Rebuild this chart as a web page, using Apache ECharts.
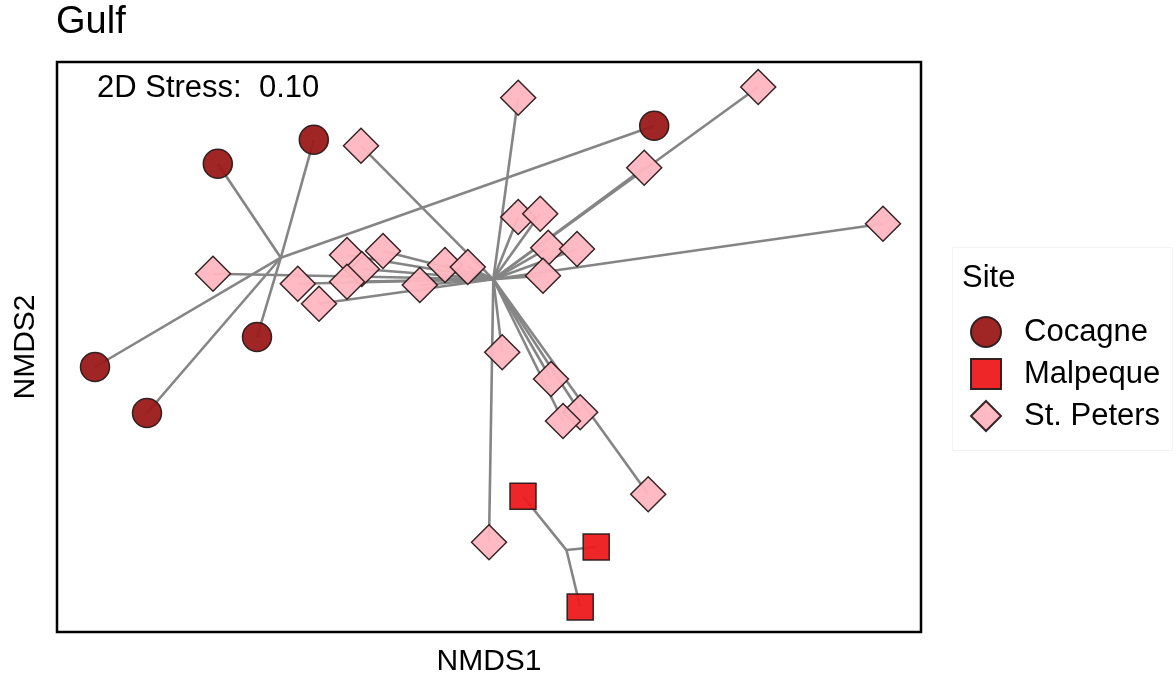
<!DOCTYPE html>
<html>
<head>
<meta charset="utf-8">
<script src="https://cdn.jsdelivr.net/npm/echarts@6/dist/echarts.min.js"></script>
<style>
  html, body { margin: 0; padding: 0; background: #ffffff; }
  #chart { width: 1176px; height: 675px; }
</style>
</head>
<body>
<div id="chart"></div>
<script>
// ---- data (NMDS scores) ----
const sites = ['Cocagne', 'Malpeque', 'St. Peters'];

const cocagneX = [-0.678, -0.438, 0.413, -0.580, -0.985, -0.855];
const cocagneY = [0.458, 0.518, 0.553, 0.025, -0.050, -0.165];

const malpequeX = [0.085, 0.268, 0.228];
const malpequeY = [-0.373, -0.500, -0.650];

const stPetersX = [0.073, 0.673, -0.320, 0.388, 0.073, 0.128, 0.985, 0.148, 0.220, 0.135,
                   -0.690, -0.478, -0.425, -0.355, -0.318, -0.355, -0.265, -0.173, -0.110, -0.053,
                   0.033, 0.155, 0.228, 0.185, 0.398, 0.000];
const stPetersY = [0.623, 0.650, 0.503, 0.448, 0.325, 0.333, 0.308, 0.248, 0.245, 0.178,
                   0.183, 0.158, 0.108, 0.230, 0.195, 0.163, 0.240, 0.155, 0.205, 0.200,
                   -0.013, -0.080, -0.163, -0.185, -0.368, -0.488];

const stressText = '2D Stress:  0.10';
const titleText = 'Gulf';
const legendTitle = 'Site';
const xName = 'NMDS1';
const yName = 'NMDS2';

// ---- helpers ----
const FONT = '"Liberation Sans", Arial, sans-serif';
function pts(xs, ys) { return xs.map((x, i) => [x, ys[i]]); }
function centroid(xs, ys) {
  const n = xs.length;
  return [xs.reduce((a, b) => a + b, 0) / n, ys.reduce((a, b) => a + b, 0) / n];
}
function spider(xs, ys) {
  const c = centroid(xs, ys);
  return xs.map((x, i) => ({ coords: [[x, ys[i]], c] }));
}

const groups = [
  { name: sites[0], xs: cocagneX, ys: cocagneY, symbol: 'circle', size: 29, color: '#9b1a1a' },
  { name: sites[1], xs: malpequeX, ys: malpequeY, symbol: 'rect', size: 26, color: '#ee1a1c' },
  { name: sites[2], xs: stPetersX, ys: stPetersY, symbol: 'diamond', size: 35, color: '#ffb6c1' }
];

const series = [];
groups.forEach(g => {
  series.push({
    type: 'lines',
    coordinateSystem: 'cartesian2d',
    silent: true,
    z: 1,
    lineStyle: { color: '#858585', width: 2.6, opacity: 1 },
    data: spider(g.xs, g.ys)
  });
});
groups.forEach(g => {
  series.push({
    name: g.name,
    type: 'scatter',
    z: 3,
    symbol: g.symbol,
    symbolSize: g.size,
    itemStyle: { color: g.color, borderColor: '#2a1a1a', borderWidth: 1.5, opacity: 0.95 },
    data: pts(g.xs, g.ys)
  });
});

const chart = echarts.init(document.getElementById('chart'), null, { renderer: 'canvas' });
chart.setOption({
  animation: false,
  backgroundColor: '#ffffff',
  title: [
    { text: titleText, left: 56, top: 4, padding: 0,
      textStyle: { fontFamily: FONT, fontSize: 38, fontWeight: 'normal', color: '#000' } },
    { text: stressText, left: 97, top: 73, padding: 0,
      textStyle: { fontFamily: FONT, fontSize: 31, fontWeight: 'normal', color: '#000' } },
    { text: legendTitle, left: 962, top: 263, padding: 0,
      textStyle: { fontFamily: FONT, fontSize: 31, fontWeight: 'normal', color: '#000' } }
  ],
  graphic: [
    { type: 'rect', left: 952, top: 247, shape: { width: 220, height: 203 },
      style: { fill: '#ffffff', stroke: '#f3f3f3', lineWidth: 1 }, z: -1 }
  ],
  legend: {
    orient: 'vertical',
    left: 970,
    top: 316,
    itemWidth: 30,
    itemHeight: 30,
    itemGap: 10,
    selectedMode: false,
    padding: 0,
    data: sites,
    textStyle: { fontFamily: FONT, fontSize: 31, color: '#000', padding: [0, 0, 0, 18] }
  },
  grid: {
    left: 57, right: 255, top: 62, bottom: 43,
    outerBoundsMode: 'none',
    containLabel: false,
    show: true, borderColor: '#000', borderWidth: 2.5, backgroundColor: '#fff'
  },
  xAxis: {
    type: 'value', min: -1.08, max: 1.08,
    name: xName, nameLocation: 'middle', nameGap: 15,
    nameTextStyle: { fontFamily: FONT, fontSize: 30, color: '#000' },
    axisLine: { show: false }, axisTick: { show: false },
    axisLabel: { show: false }, splitLine: { show: false }
  },
  yAxis: {
    type: 'value', min: -0.7125, max: 0.7125,
    name: yName, nameLocation: 'middle', nameGap: 16,
    nameTextStyle: { fontFamily: FONT, fontSize: 30, color: '#000' },
    axisLine: { show: false }, axisTick: { show: false },
    axisLabel: { show: false }, splitLine: { show: false }
  },
  series: series
});
</script>
</body>
</html>
